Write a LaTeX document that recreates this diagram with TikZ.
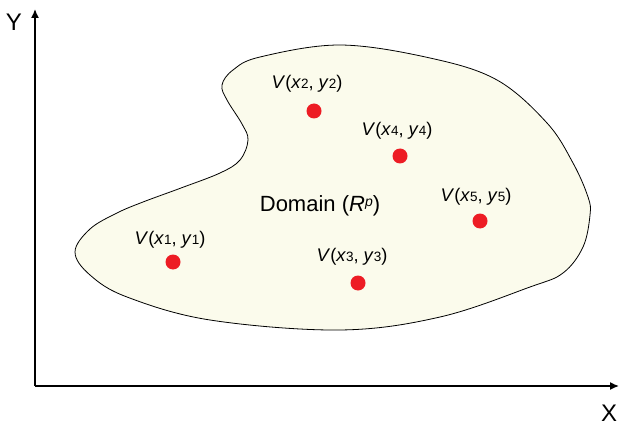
\documentclass[tikz,border=0pt]{standalone}
\usepackage{fontspec}
\setmainfont{Liberation Sans}
\usetikzlibrary{arrows.meta}
\definecolor{domfill}{RGB}{251,251,236}
\definecolor{dotred}{RGB}{237,28,36}
\newcommand{\sbs}[1]{{\fontsize{13.5}{13.5}\selectfont #1}}
\begin{document}
\begin{tikzpicture}[x=1pt,y=-1pt,
  axis/.style={line width=1.5pt,-{Latex[length=9pt,width=8pt]}},
  pt/.style={circle,fill=dotred,minimum size=15pt,inner sep=0pt},
  lbl/.style={font=\fontsize{18.3}{18.3}\selectfont,inner sep=0pt},
  axlbl/.style={font=\fontsize{24}{24}\selectfont,inner sep=0pt}]
\useasboundingbox (0,0) rectangle (620,430);
% domain
\draw[fill=domfill,line width=0.8pt] plot[smooth cycle,tension=0.6] coordinates {
 (222,85) (233,70) (260,57) (340,45) (430,58) (497,80) (547,123) (573,163)
 (588,197) (590,215) (583,247) (563,273) (530,287) (440,317) (340,330)
 (210,320) (127,297) (90,275) (75,252) (90,229) (117,213) (143,202)
 (181,188) (220,173) (240,160) (248,140) (242,124) (227,100)};
% axes
\coordinate (O) at (35,386);
\coordinate (ytip) at (35,9);
\coordinate (xtip) at (619,386);
\draw[axis] (O) -- (ytip);
\draw[axis] (O) -- (xtip);
\node[axlbl] (Y) at (14,22) {Y};
\node[axlbl] (X) at (609,413) {X};
% points
\node[pt] (d1) at (173,262) {};
\node[pt] (d2) at (314,111) {};
\node[pt] (d3) at (358,283) {};
\node[pt] (d4) at (400,156) {};
\node[pt] (d5) at (480,221) {};
\node[lbl] (l1) at (170,240) {\textit{V}(\textit{x}\sbs{1}, \textit{y}\sbs{1})};
\node[lbl] (l2) at (307,84) {\textit{V}(\textit{x}\sbs{2}, \textit{y}\sbs{2})};
\node[lbl] (l3) at (352,257) {\textit{V}(\textit{x}\sbs{3}, \textit{y}\sbs{3})};
\node[lbl] (l4) at (397,131) {\textit{V}(\textit{x}\sbs{4}, \textit{y}\sbs{4})};
\node[lbl] (l5) at (476,197) {\textit{V}(\textit{x}\sbs{5}, \textit{y}\sbs{5})};
\node[font=\fontsize{22}{22}\selectfont,inner sep=0pt] (dom) at (320,206) {Domain (\textit{R}\raisebox{5pt}{\fontsize{14}{14}\selectfont\textit{p}})};
\end{tikzpicture}
\end{document}
